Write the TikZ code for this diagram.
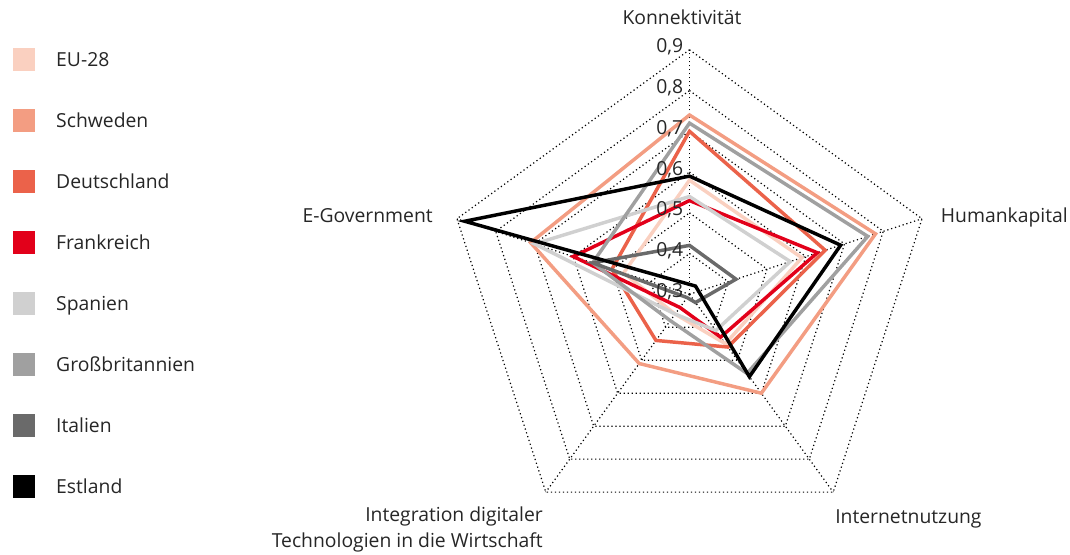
\documentclass[tikz,border=0pt]{standalone}
\usepackage{fontspec}
\setmainfont{Open Sans}
\usetikzlibrary{positioning}

\definecolor{eucol}{RGB}{250,208,192}
\definecolor{secol}{RGB}{243,157,130}
\definecolor{decol}{RGB}{235,98,74}
\definecolor{frcol}{RGB}{226,0,26}
\definecolor{escol}{RGB}{208,208,208}
\definecolor{gbcol}{RGB}{160,160,160}
\definecolor{itcol}{RGB}{106,106,106}
\definecolor{eecol}{RGB}{0,0,0}

\begin{document}
\begin{tikzpicture}[x=0.75pt, y=0.75pt,
        every node/.style={font=\fontsize{14.5}{19.5}\selectfont, text=black!85, inner sep=0pt},
        ring/.style={black, line width=0.9pt, dash pattern=on 0.9pt off 2.1pt},
        series/.style={line width=2.6pt, line join=miter},
        legbox/.style={minimum width=16.5pt, minimum height=17.25pt},
        legtext/.style={anchor=west, text height=10.4pt, text depth=0pt},
        tick/.style={anchor=east, xshift=-4.5pt, yshift=2pt}]

                \useasboundingbox (0,0) rectangle (1070,554);
                \coordinate[] (O) at (689.5,259.7);

                \begin{scope}[shift={(O)}, x=30.5625pt, y=30.5625pt]
                \foreach \k in {1,...,6}
                    \draw[ring] (90:\k) -- (18:\k) -- (-54:\k) -- (-126:\k) -- (162:\k) -- cycle;
                \foreach \a in {90,18,-54,-126,162}
                    \draw[ring] (0,0) -- (\a:6);

                \draw[series, eucol] (90:2.8) -- (18:2.9) -- (-54:1.5) -- (-126:0.6) -- (162:1.7) -- cycle;
                \draw[series, secol] (90:4.4) -- (18:4.8) -- (-54:3.0) -- (-126:2.1) -- (162:4.1) -- cycle;
                \draw[series, decol] (90:4.0) -- (18:3.5) -- (-54:1.6) -- (-126:1.4) -- (162:2.0) -- cycle;
                \draw[series, frcol] (90:2.3) -- (18:3.3) -- (-54:1.3) -- (-126:0.4) -- (162:3.0) -- cycle;
                \draw[series, escol] (90:2.4) -- (18:2.6) -- (-54:1.1) -- (-126:0.6) -- (162:4.0) -- cycle;
                \draw[series, gbcol] (90:4.2) -- (18:4.6) -- (-54:2.4) -- (-126:0.8) -- (162:2.5) -- cycle;
                \draw[series, itcol] (90:1.2) -- (18:1.2) -- (-54:0.25) -- (-126:0.1) -- (162:2.5) -- cycle;
                \draw[series, eecol] (90:2.9) -- (18:3.9) -- (-54:2.5) -- (-126:-0.25) -- (162:5.8) -- cycle;

                \node[tick] (t3) at (90:0) {0,3};
                \node[tick] (t4) at (90:1) {0,4};
                \node[tick] (t5) at (90:2) {0,5};
                \node[tick] (t6) at (90:3) {0,6};
                \node[tick] (t7) at (90:4) {0,7};
                \node[tick] (t8) at (90:5) {0,8};
                \node[tick] (t9) at (90:6) {0,9};
                \end{scope}

                \node[] (konn) at (682,537) {Konnektivität};
                \node[anchor=base east] (human) at (1068,331) {Humankapital};
                \node[anchor=base west] (inet) at (835,31) {Internetnutzung};
                \node[anchor=north east, align=right] (integ) at (543,47) {Integration digitaler\\Technologien in die Wirtschaft};
                \node[anchor=base east] (egov) at (433,331) {E-Government};

                \node[legbox, fill=eucol] (s1) at (24,494.5) {};
                \node[legbox, fill=secol] (s2) at (24,433.5) {};
                \node[legbox, fill=decol] (s3) at (24,372.5) {};
                \node[legbox, fill=frcol] (s4) at (24,311.5) {};
                \node[legbox, fill=escol] (s5) at (24,250.5) {};
                \node[legbox, fill=gbcol] (s6) at (24,189.5) {};
                \node[legbox, fill=itcol] (s7) at (24,128.5) {};
                \node[legbox, fill=eecol] (s8) at (24,67.5) {};

                \node[legtext, right=15.5pt of s1] (l1) {EU-28};
                \node[legtext, right=15.5pt of s2] (l2) {Schweden};
                \node[legtext, right=15.5pt of s3] (l3) {Deutschland};
                \node[legtext, right=15.5pt of s4] (l4) {Frankreich};
                \node[legtext, right=15.5pt of s5] (l5) {Spanien};
                \node[legtext, right=15.5pt of s6] (l6) {Großbritannien};
                \node[legtext, right=15.5pt of s7] (l7) {Italien};
                \node[legtext, right=15.5pt of s8] (l8) {Estland};

            \end{tikzpicture}
\end{document}
